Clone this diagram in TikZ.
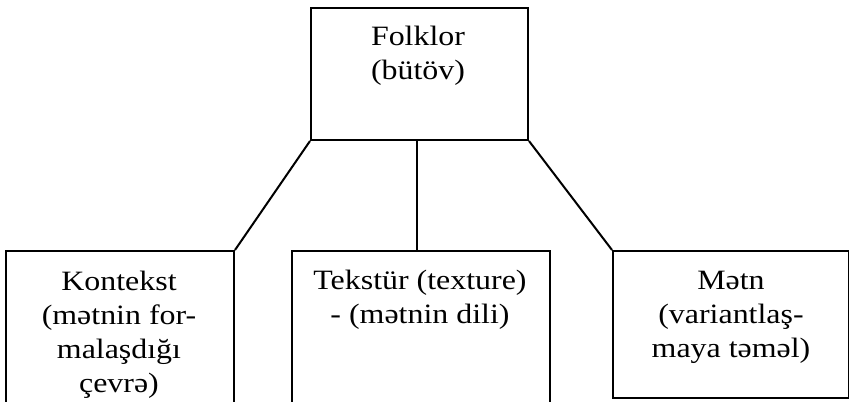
\documentclass[tikz,border=0pt]{standalone}
\usepackage{fontspec}
\setmainfont{Liberation Serif}[FakeStretch=1.14]
\begin{document}
\begin{tikzpicture}[x=0.5pt,y=-0.5pt,
  box/.style={draw, line width=1pt, inner sep=0pt, anchor=north west},
  lbl/.style={align=center, inner sep=0pt, anchor=north, font=\fontsize{14}{17}\selectfont},
  conn/.style={line width=1pt}]
\useasboundingbox (0,0) rectangle (849,401);
\clip (0,0) rectangle (849,401);
% boxes
\node[box, minimum width=108.5pt, minimum height=66pt] (top) at (310,7) {};
\node[box, minimum width=114pt, minimum height=125pt] (ctx) at (5,250) {};
\node[box, minimum width=129pt, minimum height=125pt] (tex) at (291,250) {};
\node[box, minimum width=118pt, minimum height=73.5pt] (mtn) at (612,250) {};
% labels
\node[lbl] (ttop) at (418,26) {Folklor\\(bütöv)};
\node[lbl] (tctx) at (119,271) {Kontekst\\(mətnin for-\\malaşdığı\\çevrə)};
\node[lbl] (ttex) at (420,270) {Tekstür (texture)\\- (mətnin dili)};
\node[lbl] (tmtn) at (731,271) {Mətn\\(variantlaş-\\maya təməl)};
% connectors
\draw[conn] (top.south west) -- (ctx.north east);
\draw[conn] ([xshift=-2pt]top.south -| tex.north) -- ([xshift=-2pt]tex.north);
\draw[conn] (top.south east) -- (mtn.north west);
\end{tikzpicture}
\end{document}
